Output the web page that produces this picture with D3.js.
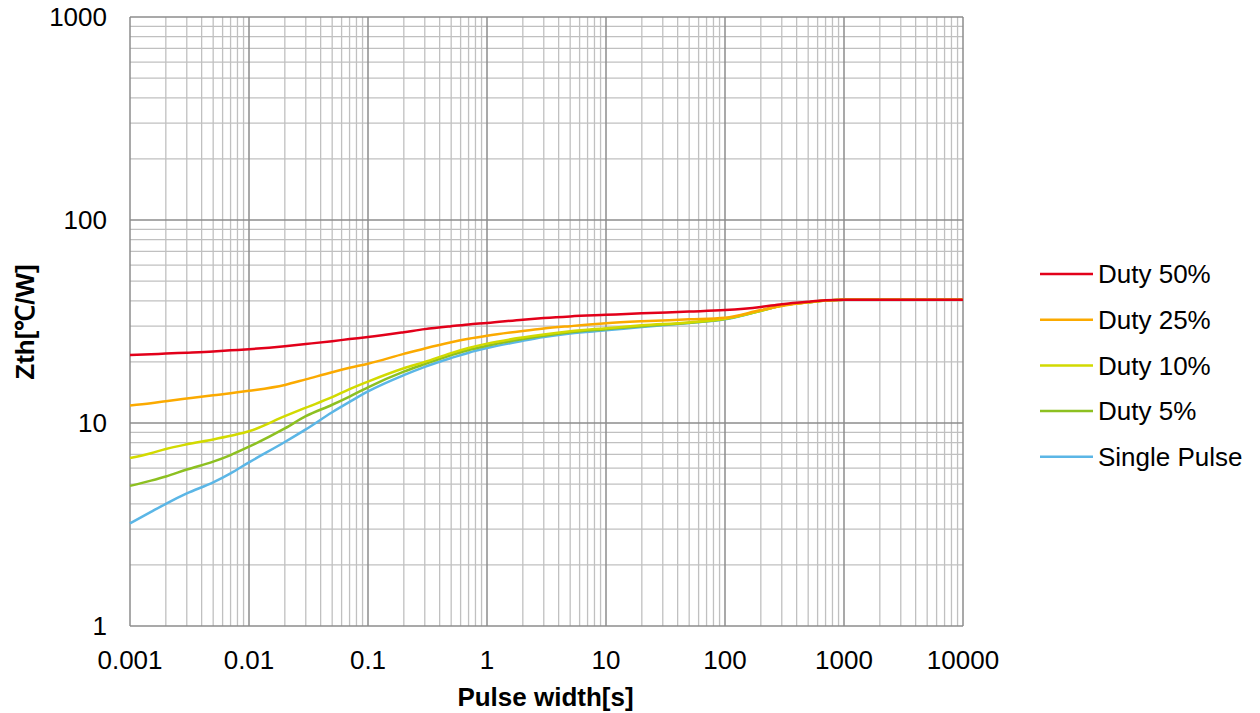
<!DOCTYPE html>
<html>
<head>
<meta charset="utf-8">
<script src="https://cdn.jsdelivr.net/npm/d3@7"></script>
<style>
  body { margin: 0; background: #fff; }
  svg text { font-family: "Liberation Sans", Arial, sans-serif; fill: #000; }
</style>
</head>
<body>
<svg id="chart" width="1260" height="713"></svg>
<script>
// pulse widths [s]
const pulseWidth = [0.001, 0.0015, 0.002, 0.003, 0.005, 0.007, 0.01, 0.02, 0.03, 0.05, 0.07, 0.1,
    0.2, 0.3, 0.5, 0.7, 1, 2, 3, 5, 10, 20, 50, 100, 200, 300, 500, 700, 1000, 2000, 5000, 10000];

// Zth values per series
const duty50 = [21.6, 21.8, 22.0, 22.2, 22.5, 22.8, 23.1, 23.9, 24.5, 25.3, 25.9, 26.5,
    28.0, 29.0, 30.0, 30.6, 31.1, 32.3, 32.9, 33.5, 34.1, 34.7, 35.4, 36.0, 37.3, 38.5, 39.6, 40.2, 40.5, 40.5, 40.5, 40.5];
const duty25 = [12.2, 12.5, 12.8, 13.2, 13.7, 14.0, 14.4, 15.4, 16.4, 17.8, 18.7, 19.6,
    21.9, 23.3, 25.0, 26.0, 26.9, 28.4, 29.2, 30.0, 31.0, 31.7, 32.4, 33.0, 36.0, 37.7, 39.3, 40.1, 40.5, 40.5, 40.5, 40.5];
const duty10 = [6.72, 7.1, 7.45, 7.85, 8.3, 8.65, 9.1, 10.8, 11.9, 13.4, 14.7, 16.0,
    18.6, 20.0, 22.1, 23.4, 24.6, 26.4, 27.3, 28.3, 29.3, 30.3, 31.3, 32.6, 35.7, 37.9, 39.3, 40.1, 40.5, 40.5, 40.5, 40.5];
const duty5 = [4.9, 5.2, 5.45, 5.9, 6.45, 6.95, 7.64, 9.4, 10.8, 12.3, 13.5, 15.0,
    17.9, 19.5, 21.6, 22.9, 24.0, 25.9, 26.9, 28.0, 29.0, 30.0, 31.2, 32.5, 35.7, 37.9, 39.3, 40.1, 40.5, 40.5, 40.5, 40.5];
const singlePulse = [3.2, 3.65, 4.0, 4.5, 5.1, 5.65, 6.4, 8.06, 9.3, 11.3, 12.7, 14.3,
    17.2, 18.9, 20.9, 22.2, 23.4, 25.4, 26.5, 27.6, 28.6, 29.7, 31.1, 32.4, 35.7, 37.9, 39.3, 40.1, 40.5, 40.5, 40.5, 40.5];

const seriesNames = ["Duty 50%", "Duty 25%", "Duty 10%", "Duty 5%", "Single Pulse"];
const seriesColors = ["#e2001a", "#fbaa00", "#d2da00", "#8dc021", "#5bb6e6"];
const xTickLabels = ["0.001", "0.01", "0.1", "1", "10", "100", "1000", "10000"];
const yTickLabels = ["1", "10", "100", "1000"];

const margin = { top: 17, right: 297, bottom: 87, left: 130 };
const width = 1260 - margin.left - margin.right,
    height = 713 - margin.top - margin.bottom;

const svg = d3.select("#chart");
const g = svg.append("g").attr("transform", `translate(${margin.left},${margin.top})`);

const x = d3.scaleLog().domain([0.001, 10000]).range([0, width]);
const y = d3.scaleLog().domain([1, 1000]).range([height, 0]);

// minor grid
let minorX = [], minorY = [];
for (let e = -3; e < 4; e++) for (let k = 2; k <= 9; k++) minorX.push(k * Math.pow(10, e));
for (let e = 0; e < 3; e++) for (let k = 2; k <= 9; k++) minorY.push(k * Math.pow(10, e));

g.append("g").selectAll("line").data(minorX).enter().append("line")
    .attr("x1", d => x(d)).attr("x2", d => x(d))
    .attr("y1", 0).attr("y2", height)
    .style("stroke", "#c0c0c0").style("stroke-width", 1.3);
g.append("g").selectAll("line").data(minorY).enter().append("line")
    .attr("y1", d => y(d)).attr("y2", d => y(d))
    .attr("x1", 0).attr("x2", width)
    .style("stroke", "#c0c0c0").style("stroke-width", 1.3);

// major grid
g.append("g").selectAll("line").data(xTickLabels.map(Number)).enter().append("line")
    .attr("x1", d => x(d)).attr("x2", d => x(d))
    .attr("y1", 0).attr("y2", height)
    .style("stroke", "#8c8c8c").style("stroke-width", 1.5);
g.append("g").selectAll("line").data(yTickLabels.map(Number)).enter().append("line")
    .attr("y1", d => y(d)).attr("y2", d => y(d))
    .attr("x1", 0).attr("x2", width)
    .style("stroke", "#8c8c8c").style("stroke-width", 1.5);

// tick labels
g.append("g").selectAll("text").data(xTickLabels).enter().append("text")
    .attr("x", d => x(+d)).attr("y", height + 43)
    .attr("text-anchor", "middle")
    .style("font-size", "26px")
    .text(d => d);
g.append("g").selectAll("text").data(yTickLabels).enter().append("text")
    .attr("x", -23).attr("y", d => y(+d))
    .attr("text-anchor", "end").attr("dy", "0.35em")
    .style("font-size", "26px")
    .text(d => d);

// axis titles
svg.append("text")
    .attr("x", margin.left + width / 2 - 1).attr("y", 706)
    .attr("text-anchor", "middle")
    .style("font-size", "26px").style("font-weight", "bold")
    .text("Pulse width[s]");
svg.append("text")
    .attr("transform", "translate(34,322) rotate(-90)")
    .attr("text-anchor", "middle")
    .style("font-size", "26px").style("font-weight", "bold")
    .text("Zth[℃/W]");

// series
const allSeries = [duty50, duty25, duty10, duty5, singlePulse];
const line = d3.line()
    .x(d => x(d[0])).y(d => y(d[1]))
    .curve(d3.curveMonotoneX);

// draw from back (single pulse) to front like the original stacking
allSeries.map((vals, i) => ({ vals, i })).reverse().forEach(s => {
    g.append("path")
        .datum(pulseWidth.map((p, j) => [p, s.vals[j]]))
        .attr("d", line)
        .style("fill", "none")
        .style("stroke", seriesColors[s.i])
        .style("stroke-width", 2.5);
});

// legend
const legend = svg.append("g").attr("transform", "translate(1040,274)");
const items = legend.selectAll("g").data(seriesNames).enter().append("g")
    .attr("transform", (d, i) => `translate(0,${i * 45.7})`);
items.append("line").attr("x1", 0).attr("x2", 53).attr("y1", 0).attr("y2", 0)
    .style("stroke", (d, i) => seriesColors[i]).style("stroke-width", 2.5);
items.append("text").attr("x", 58).attr("dy", "0.35em")
    .style("font-size", "26px")
    .text(d => d);
</script>
</body>
</html>
